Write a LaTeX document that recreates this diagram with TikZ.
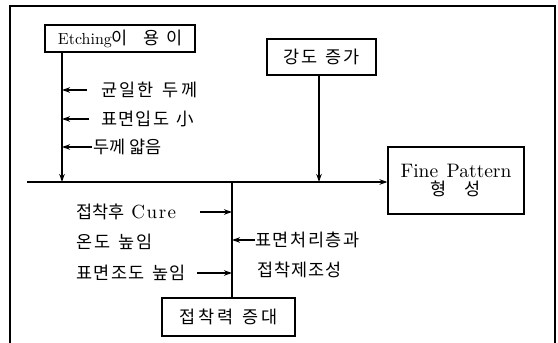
\documentclass[tikz,border=0pt]{standalone}
\usepackage{fontspec}
\newfontfamily\kr{Noto Sans CJK KR}
\newfontfamily\lmr[Ligatures=TeX]{lmroman10-regular.otf}
\usetikzlibrary{arrows.meta}
\makeatletter
\newcommand\spaced[2]{\def\sp@k{#1}\sp@first#2\relax}
\def\sp@first#1{#1\sp@loop}
\def\sp@loop#1{\ifx#1\relax\else\kern\sp@k\relax#1\expandafter\sp@loop\fi}
\makeatother
\newcommand\krt{\fontsize{17.5}{19}\selectfont\kr}
\begin{document}
\begin{tikzpicture}[x=1pt,y=-1pt,
  box/.style={draw,line width=1.1pt,inner sep=0pt,align=center},
  lab/.style={anchor=west,inner sep=0pt,font=\krt},
  arr/.style={line width=1.3pt,-{Stealth[length=8pt,width=5.5pt]}},
  ln/.style={line width=1.3pt}]
\useasboundingbox (0,0) rectangle (558,343);
\draw[line width=1.1pt] (10,343) -- (10,6) -- (555,6) -- (555,343);
% boxes
\node[box,minimum width=150pt,minimum height=27pt] (etch) at (120,38.5)
  {\fontsize{16}{18}\selectfont\lmr Etching{\krt\spaced{6pt}{이~용이}}};
\node[box,minimum width=109pt,minimum height=36pt] (gang) at (321.5,57)
  {\krt\spaced{2pt}{강도~증가}};
\node[box,minimum width=136pt,minimum height=67pt] (fine) at (456,180.5)
  {\fontsize{19.5}{21}\selectfont\lmr Fine\hspace{2pt} Pattern\\[3pt]{\krt 형\hspace{18pt}성}};
\node[box,minimum width=133pt,minimum height=38pt] (bond) at (228.5,317)
  {\krt\spaced{2.7pt}{접착력~증대}};
% main lines
\coordinate (hl) at (27,182);
\coordinate (ev) at (62,182);
\coordinate (gv) at (319,182);
\coordinate (bv) at (232,182);
\draw[ln] (hl) -- (bv);
\draw[arr] (bv) -- (hl -| fine.west);
\draw[arr] (etch.south -| ev) -- (ev);
\draw[arr] (gang.south -| gv) -- (gv);
\draw[ln] (bv) -- (bv |- bond.north);
% left-top labels
\node[lab] (l1) at (101,90) {\spaced{2.3pt}{균일한~두께}};
\node[lab] (l2) at (101,119) {\spaced{1.3pt}{표면입도~小}};
\node[lab] (l3) at (93,147) {\spaced{0pt}{두께~얇음}};
\draw[arr,shorten <=14pt] (l1.west) -- (l1.west -| ev);
\draw[arr,shorten <=12pt] (l2.west) -- (l2.west -| ev);
\draw[arr,shorten <=1pt] (l3.west) -- (l3.west -| ev);
% bottom labels
\node[lab] (b1) at (76,212) {접착후\hspace{7pt}{\fontsize{19}{21}\selectfont\lmr C\kern1.5pt u\kern1.5pt r\kern1.5pt e}};
\node[lab] (b2) at (76,242) {\spaced{2pt}{온도~높임}};
\node[lab] (b3) at (76,273) {\spaced{1.5pt}{표면조도~높임}};
\node[lab] (r1) at (255,240) {\spaced{1.6pt}{표면처리층과}};
\node[lab] (r2) at (257,270) {\spaced{1.1pt}{접착제조성}};
\coordinate (c1) at (200,212);
\coordinate (c3) at (197,273);
\draw[arr] (c1) -- (c1 -| bv);
\draw[arr] (c3) -- (c3 -| bv);
\draw[arr] (r1.west) -- (r1.west -| bv);
\end{tikzpicture}
\end{document}
